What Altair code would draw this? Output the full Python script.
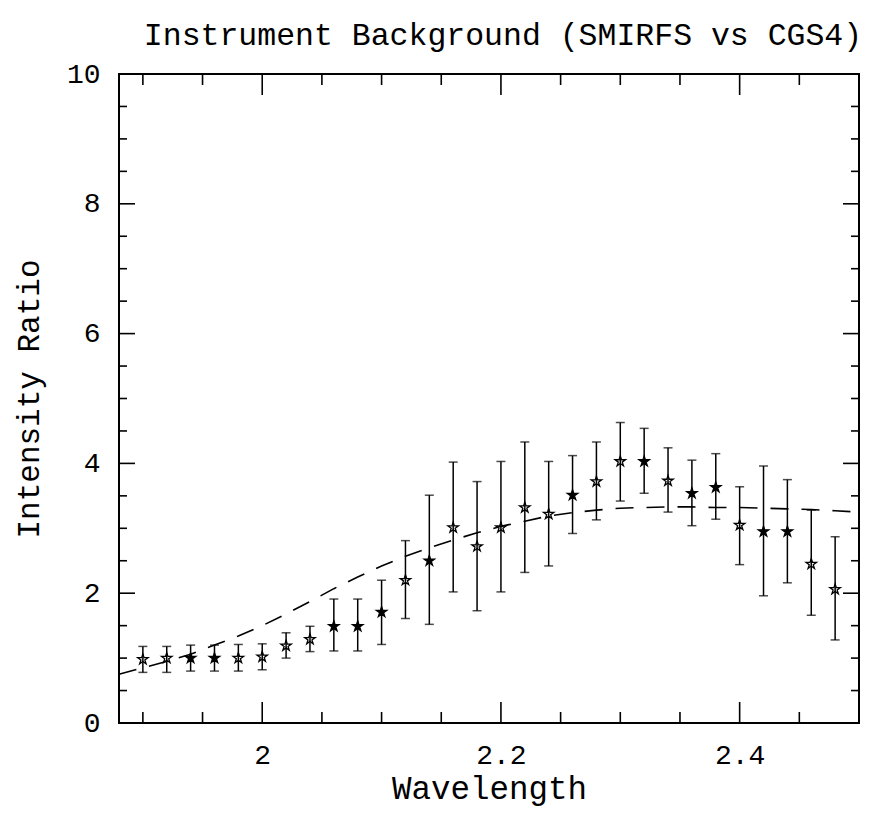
import altair as alt
import pandas as pd

# ---- data ----
wavelength = [1.90, 1.92, 1.94, 1.96, 1.98, 2.00, 2.02, 2.04, 2.06, 2.08,
              2.10, 2.12, 2.14, 2.16, 2.18, 2.20, 2.22, 2.24, 2.26, 2.28,
              2.30, 2.32, 2.34, 2.36, 2.38, 2.40, 2.42, 2.44, 2.46, 2.48]
ratio = [0.98, 1.00, 1.00, 1.00, 1.00, 1.02, 1.19, 1.29, 1.49, 1.49,
         1.71, 2.20, 2.50, 3.01, 2.72, 3.01, 3.32, 3.22, 3.51, 3.72,
         4.03, 4.03, 3.73, 3.54, 3.63, 3.05, 2.95, 2.95, 2.45, 2.06]
ratio_low = [0.78, 0.78, 0.80, 0.80, 0.80, 0.82, 1.00, 1.10, 1.11, 1.11,
             1.21, 1.61, 1.52, 2.02, 1.73, 2.02, 2.32, 2.42, 2.92, 3.13,
             3.42, 3.54, 3.25, 3.04, 3.14, 2.44, 1.96, 2.16, 1.66, 1.28]
ratio_high = [1.18, 1.18, 1.20, 1.20, 1.21, 1.22, 1.39, 1.49, 1.91, 1.91,
              2.20, 2.81, 3.51, 4.02, 3.72, 4.03, 4.33, 4.03, 4.12, 4.33,
              4.63, 4.54, 4.24, 4.05, 4.15, 3.64, 3.96, 3.75, 3.28, 2.87]
filled = [0, 0, 1, 1, 0, 0, 0, 0, 1, 1, 1, 0, 1, 0, 0, 0, 0, 0, 1, 0,
          0, 1, 0, 1, 1, 0, 1, 1, 0, 0]

model_x = [1.88, 1.90, 1.92, 1.94, 1.96, 1.98, 2.00, 2.02, 2.04, 2.06, 2.08,
           2.10, 2.12, 2.14, 2.16, 2.18, 2.20, 2.22, 2.24, 2.26, 2.28, 2.30,
           2.32, 2.34, 2.36, 2.38, 2.40, 2.42, 2.44, 2.46, 2.48, 2.50]
model_y = [0.75, 0.85, 0.95, 1.06, 1.20, 1.34, 1.50, 1.68, 1.87, 2.07, 2.25,
           2.42, 2.57, 2.70, 2.82, 2.93, 3.03, 3.11, 3.19, 3.24, 3.28, 3.31,
           3.32, 3.33, 3.33, 3.32, 3.32, 3.31, 3.30, 3.29, 3.27, 3.25]

x_label_ticks = [2.0, 2.2, 2.4]
x_minor_ticks = [1.90, 1.95, 2.05, 2.10, 2.15, 2.25, 2.30, 2.35, 2.45]
y_label_ticks = [0, 2, 4, 6, 8, 10]
y_major_ticks = [2, 4, 6, 8]
y_minor_ticks = [0.5, 1, 1.5, 2.5, 3, 3.5, 4.5, 5, 5.5, 6.5, 7, 7.5, 8.5, 9, 9.5]

W, H = 740, 649
FONT = "Liberation Mono"

pts = pd.DataFrame({"wavelength": wavelength, "ratio": ratio,
                    "lo": ratio_low, "hi": ratio_high, "filled": filled})
model = pd.DataFrame({"wavelength": model_x, "ratio": model_y})
xmaj = pd.DataFrame({"v": x_label_ticks})
xmin = pd.DataFrame({"v": x_minor_ticks})
ymaj = pd.DataFrame({"v": y_major_ticks})
ymin = pd.DataFrame({"v": y_minor_ticks})

xs = alt.Scale(domain=[1.88, 2.5], nice=False, zero=False)
ys = alt.Scale(domain=[0, 10], nice=False, zero=False)

x_axis = alt.Axis(values=x_label_ticks, format="~g", ticks=False,
                  domain=False, grid=False, labelBaseline="alphabetic",
                  labelPadding=40, title="Wavelength",
                  titleAlign="center", titleBaseline="alphabetic",
                  titleX=W / 2, titleY=75, titleFontSize=32.5)
y_axis = alt.Axis(values=y_label_ticks, format="d", ticks=False,
                  domain=False, grid=False, labelBaseline="middle",
                  labelPadding=19, labelOverlap=False,
                  title="Intensity Ratio", titleAlign="center",
                  titleBaseline="alphabetic", titleAngle=270,
                  titleX=-81, titleY=H / 2, titleFontSize=31)


def X(field):
    return alt.X(field, type="quantitative", scale=xs, axis=x_axis)


def Y(field):
    return alt.Y(field, type="quantitative", scale=ys, axis=y_axis)


base = alt.Chart(pts)

star = ("M0,-1L0.2245,-0.309L0.951,-0.309L0.363,0.118L0.588,0.809L0,0.382"
        "L-0.588,0.809L-0.363,0.118L-0.951,-0.309L-0.2245,-0.309Z")
points = base.mark_point(shape=star, size=120, stroke="black", strokeWidth=1.3,
                         opacity=1).encode(
    x=X("wavelength"),
    y=Y("ratio"),
    fill=alt.Fill("filled:N", scale=alt.Scale(domain=[0, 1], range=["white", "black"]),
                  legend=None),
)

rules = base.mark_rule(color="black", strokeWidth=1.5).encode(
    x=X("wavelength"), y=Y("lo"), y2="hi:Q",
)
cap_lo = base.mark_tick(color="black", orient="horizontal", size=9, thickness=1.5).encode(
    x=X("wavelength"), y=Y("lo"),
)
cap_hi = base.mark_tick(color="black", orient="horizontal", size=9, thickness=1.5).encode(
    x=X("wavelength"), y=Y("hi"),
)

curve = alt.Chart(model).mark_line(color="black", strokeWidth=1.6,
                                   strokeDash=[18, 13]).encode(
    x=X("wavelength"), y=Y("ratio"),
)


def xticks(df, length):
    bottom = alt.Chart(df).mark_rule(color="black", strokeWidth=1.6).encode(
        x=X("v"), y=alt.value(H), y2=alt.value(H - length))
    top = alt.Chart(df).mark_rule(color="black", strokeWidth=1.6).encode(
        x=X("v"), y=alt.value(0), y2=alt.value(length))
    return [bottom, top]


def yticks(df, length):
    left = alt.Chart(df).mark_rule(color="black", strokeWidth=1.6).encode(
        y=Y("v"), x=alt.value(0), x2=alt.value(length))
    right = alt.Chart(df).mark_rule(color="black", strokeWidth=1.6).encode(
        y=Y("v"), x=alt.value(W), x2=alt.value(W - length))
    return [left, right]


layers = [points, rules, cap_lo, cap_hi, curve]
layers += xticks(xmaj, 21) + xticks(xmin, 11) + yticks(ymaj, 16) + yticks(ymin, 8)

chart = alt.layer(*layers).properties(
    width=W, height=H,
    title=alt.TitleParams("Instrument Background (SMIRFS vs CGS4)", font=FONT,
                          fontSize=31.5, fontWeight="normal", color="black",
                          anchor="middle", frame="group", offset=17,
                          baseline="alphabetic", dx=14, dy=33),
    autosize=alt.AutoSizeParams(type="none"),
    padding={"left": 111, "top": 66, "right": 10, "bottom": 90},
).configure(
    background="white",
).configure_view(
    stroke="black", strokeWidth=2,
).configure_axis(
    labelFont=FONT, labelFontSize=28, labelColor="black",
    titleFont=FONT, titleFontWeight="normal", titleColor="black",
)

chart.save("out.html", embed_options={"renderer": "svg", "actions": False})
